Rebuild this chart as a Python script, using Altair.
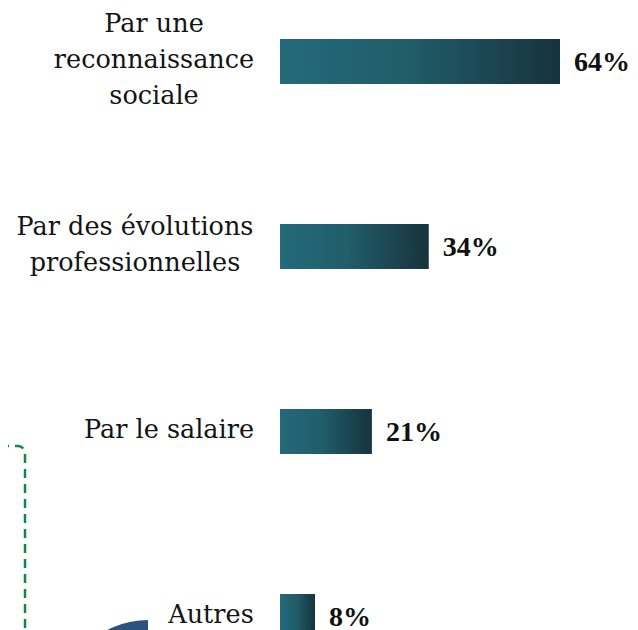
import altair as alt
import pandas as pd

# --- data ---
label_lines = [
    ["Par une", "reconnaissance", "sociale"],
    ["Par des évolutions", "professionnelles"],
    ["Par le salaire"],
    ["Autres"],
]
values = [64, 34, 21, 8]
categories = ["\n".join(l) for l in label_lines]

# per-label horizontal shift so the widest line ends at the same right edge
label_shift = [-99, -118, -84, -42]

df = pd.DataFrame({"cat": categories, "val": values,
                   "pct": [f"{v}%" for v in values]})

FONT = "DejaVu Serif"
LINE_H = 36

y_enc = alt.Y("cat:N", sort=categories, axis=None,
              scale=alt.Scale(domain=categories, range=[-39, 701],
                              paddingInner=0.7568, paddingOuter=0.3784))
x_scale = alt.Scale(domain=[0, 80], range=[272, 622])

grad = alt.Gradient(
    gradient="linear", x1=0, y1=0, x2=1, y2=0,
    stops=[alt.GradientStop(color="#246a7a", offset=0),
           alt.GradientStop(color="#215d6b", offset=0.45),
           alt.GradientStop(color="#17333d", offset=1)])

base = alt.Chart(df)

bars = base.mark_bar(color=grad).encode(
    x=alt.X("val:Q", scale=x_scale, axis=None),
    x2=alt.value(272),
    y=y_enc,
)

pct = base.mark_text(align="left", baseline="middle", dx=14, dy=1,
                     font="Liberation Serif", fontSize=28, fontWeight="bold",
                     color="#111111").encode(
    x=alt.X("val:Q", scale=x_scale, axis=None),
    y=y_enc,
    text="pct:N",
)

label_layers = []
for lines, cat, shift in zip(label_lines, categories, label_shift):
    label_layers.append(
        base.transform_filter(alt.datum.cat == cat).mark_text(
            align="center", baseline="middle", lineBreak="\n", lineHeight=LINE_H,
            dx=shift, dy=-(len(lines) - 1) * LINE_H / 2 - 2,
            font=FONT, fontSize=25.5, color="#141414").encode(
            x=alt.value(245), y=y_enc, text="cat:N")
    )

one = alt.Chart(pd.DataFrame({"k": [0]}))
dashed_box = one.mark_rect(fill="transparent", stroke="#0a8a44", strokeWidth=2.5,
                           strokeDash=[9, 6], cornerRadius=7).encode(
    x=alt.value(-60), x2=alt.value(17), y=alt.value(438), y2=alt.value(900))

blob = one.mark_arc(theta=4.712389, theta2=6.283185, radius=88,
                    color="#2c5280").encode(
    x=alt.value(140), y=alt.value(700))

chart = alt.layer(dashed_box, blob, bars, pct, *label_layers).properties(
    width=622, height=622,
    autosize=alt.AutoSizeParams(type="none"),
    padding=0,
).resolve_scale(y="shared").configure_view(strokeWidth=0)

chart.save("out.html", embed_options={"renderer": "svg", "actions": False})
